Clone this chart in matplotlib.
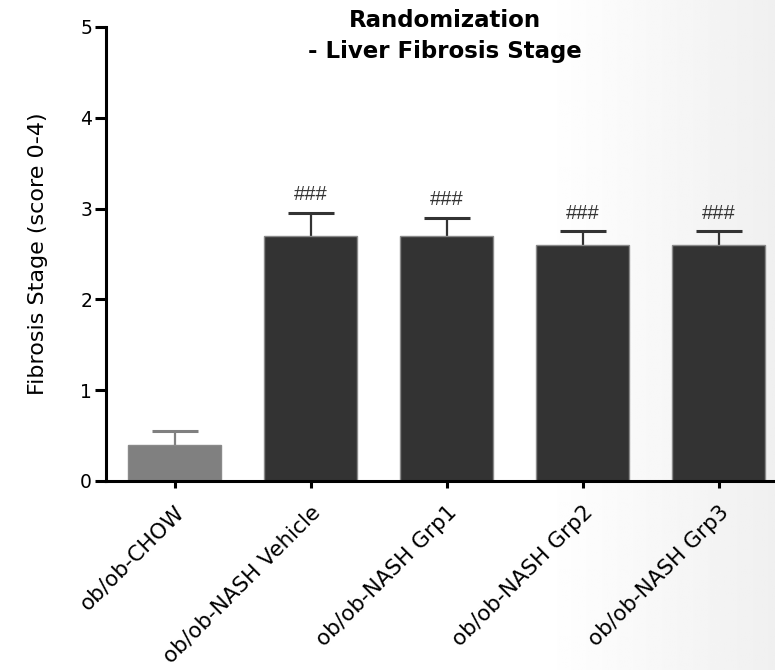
import matplotlib.pyplot as plt
import numpy as np

plt.rcParams['font.family'] = ['DejaVu Sans']

groups = ["ob/ob-CHOW", "ob/ob-NASH Vehicle", "ob/ob-NASH Grp1",
          "ob/ob-NASH Grp2", "ob/ob-NASH Grp3"]
means = [0.40, 2.70, 2.70, 2.60, 2.60]
sems = [0.15, 0.25, 0.20, 0.15, 0.15]
signif = ["", "###", "###", "###", "###"]
colors = ["#808080", "#333333", "#333333", "#333333", "#333333"]

fig = plt.figure(figsize=(7.75, 6.7), dpi=100)

# faint grey shading towards the right edge, as in the original export
bg = fig.add_axes([0, 0, 1, 1], zorder=-10)
grad = np.clip((np.linspace(0, 1, 400) - 0.7) / 0.3, 0, 1)
bg.imshow(np.tile(1 - 0.06 * grad, (10, 1)), cmap="gray", vmin=0, vmax=1,
          aspect="auto", extent=[0, 1, 0, 1])
bg.axis("off")

ax = fig.add_axes([106 / 775, 1 - 481 / 670, 1 - 106 / 775, (481 - 27) / 670])
ax.patch.set_alpha(0)
x = np.arange(len(groups))
tops = np.array(means) + np.array(sems)
ax.vlines(x, means, tops, colors=colors, linewidth=1.6, zorder=1)
ax.hlines(tops, x - 0.169, x + 0.169, colors=colors, linewidth=2.2, zorder=1)
ax.bar(x, means, width=0.684, color=colors, edgecolor="#8a8a8a", linewidth=1.0, zorder=2)
for xi, t, lab in zip(x, tops, signif):
    if lab:
        ax.text(xi, t + 0.2, lab, ha="center", va="center", fontsize=14.5,
                color="#333333", family="Liberation Sans")

ax.set_xlim(-0.504, 4.415)
ax.set_ylim(0, 5)
ax.set_yticks([0, 1, 2, 3, 4, 5])
ax.set_xticks(x)
ax.set_xticklabels(groups, rotation=45, ha="right", rotation_mode="anchor", fontsize=15.5)
ax.tick_params(axis="y", labelsize=13.5, width=2.2, length=8, pad=2)
ax.tick_params(axis="x", width=2.2, length=5, pad=10)
for side in ["top", "right"]:
    ax.spines[side].set_visible(False)
for side in ["left", "bottom"]:
    ax.spines[side].set_linewidth(2.2)
ax.set_ylabel("Fibrosis Stage (score 0-4)", fontsize=16, labelpad=23)

fig.text(0.574, 0.986, "Randomization\n- Liver Fibrosis Stage", ha="center", va="top",
         fontsize=16.5, fontweight="bold", linespacing=1.45)

fig.savefig("out.png", dpi=100)
